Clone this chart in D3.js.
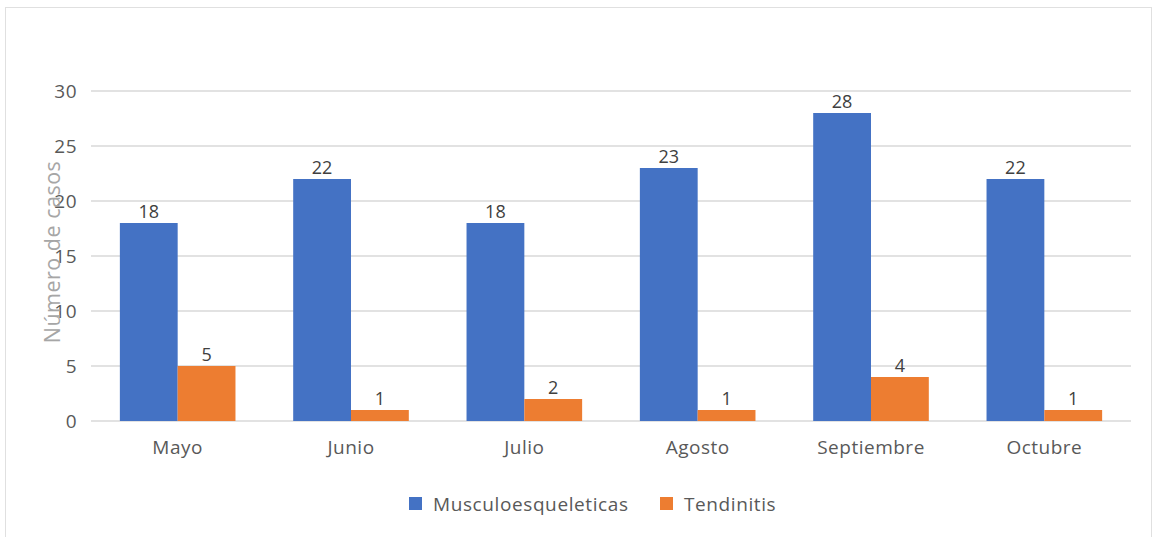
<!DOCTYPE html>
<html>
<head>
<meta charset="utf-8">
<script src="https://cdn.jsdelivr.net/npm/d3@7"></script>
<style>
  body { margin: 0; background: #fff; }
  svg { font-family: "Segoe UI", "Open Sans", "Noto Sans", sans-serif; }
</style>
</head>
<body>
<svg id="chart" width="1155" height="537"></svg>
<script>
const months = ["Mayo", "Junio", "Julio", "Agosto", "Septiembre", "Octubre"];
const seriesNames = ["Musculoesqueleticas", "Tendinitis"];
const musculo = [18, 22, 18, 23, 28, 22];
const tendinitis = [5, 1, 2, 1, 4, 1];
const yTicks = [0, 5, 10, 15, 20, 25, 30];
const colors = ["#4472C4", "#ED7D31"];

const svg = d3.select("#chart");
const margin = { top: 91, right: 24, bottom: 116, left: 91 };
const width = 1155, height = 537;

// chart border
svg.append("rect")
  .attr("x", 5.5).attr("y", 7.5)
  .attr("width", 1146).attr("height", 540)
  .attr("fill", "#fff").attr("stroke", "#e0e0e0");

const x = d3.scaleBand()
  .domain(months)
  .range([margin.left, width - margin.right])
  .paddingInner(0.333)
  .paddingOuter(0.1665);

const x1 = d3.scaleBand()
  .domain(seriesNames)
  .range([0, x.bandwidth()]);

const y = d3.scaleLinear()
  .domain([0, 30])
  .range([height - margin.bottom, margin.top]);

// grid
svg.append("g")
  .selectAll("line")
  .data(yTicks)
  .join("line")
  .attr("x1", margin.left).attr("x2", width - margin.right)
  .attr("y1", d => y(d)).attr("y2", d => y(d))
  .attr("stroke", "#d9d9d9").attr("stroke-width", 1.5);

// y tick labels
const yAxis = svg.append("g")
  .attr("transform", `translate(${margin.left - 14},0)`)
  .call(d3.axisLeft(y).tickValues(yTicks).tickSize(0).tickPadding(0))
  .attr("font-family", null).attr("font-size", null);
yAxis.select(".domain").remove();
yAxis.selectAll("text").attr("font-size", 19).attr("letter-spacing", 0.5)
  .attr("fill", "#595959");

// x tick labels
const xAxis = svg.append("g")
  .attr("transform", `translate(0,${y(0)})`)
  .call(d3.axisBottom(x).tickSize(0).tickPadding(20))
  .attr("font-family", null).attr("font-size", null);
xAxis.select(".domain").remove();
xAxis.selectAll("text").attr("font-size", 19).attr("letter-spacing", 0.5)
  .attr("fill", "#595959");

const rows = months.map((m, i) => ({ month: m, values: [musculo[i], tendinitis[i]] }));

const groups = svg.append("g")
  .selectAll("g")
  .data(rows)
  .join("g")
  .attr("transform", d => `translate(${x(d.month)},0)`);

groups.selectAll("rect")
  .data(d => d.values.map((v, k) => ({ k, v })))
  .join("rect")
  .attr("x", d => x1(seriesNames[d.k]))
  .attr("y", d => y(d.v))
  .attr("width", x1.bandwidth())
  .attr("height", d => y(0) - y(d.v))
  .attr("fill", d => colors[d.k]);

groups.selectAll("text.lbl")
  .data(d => d.values.map((v, k) => ({ k, v })))
  .join("text")
  .attr("class", "lbl")
  .attr("x", d => x1(seriesNames[d.k]) + x1.bandwidth() / 2)
  .attr("y", d => y(d.v) - 5)
  .attr("text-anchor", "middle")
  .attr("font-size", 18)
  .attr("fill", "#404040")
  .text(d => d.v);

// y axis title
svg.append("text")
  .attr("transform", `translate(60,252) rotate(-90)`)
  .attr("text-anchor", "middle")
  .attr("font-size", 21.5)
  .attr("letter-spacing", 0.5)
  .attr("fill", "#a6a6a6")
  .text("Número de casos");

// legend
const legend = svg.append("g").attr("transform", "translate(409,504)");
const legendX = [0, 251];
seriesNames.forEach((name, i) => {
  const g = legend.append("g").attr("transform", `translate(${legendX[i]},0)`);
  g.append("rect").attr("x", 0).attr("y", -7).attr("width", 13).attr("height", 13)
    .attr("fill", colors[i]);
  g.append("text").attr("x", 24).attr("y", 0).attr("dy", "0.35em")
    .attr("font-size", 19).attr("letter-spacing", 0.6)
    .attr("fill", "#595959").text(name);
});
</script>
</body>
</html>
